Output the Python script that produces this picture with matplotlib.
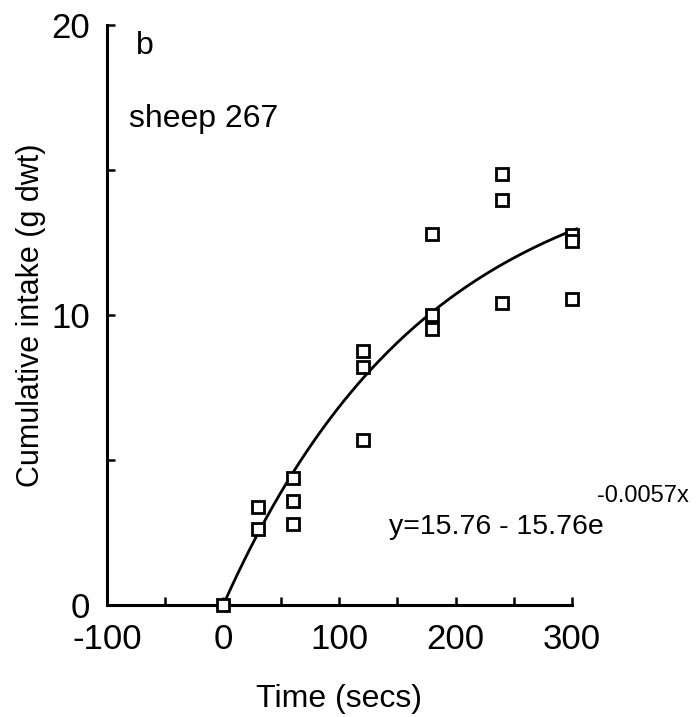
import numpy as np
import matplotlib.pyplot as plt
from matplotlib.ticker import MultipleLocator

time_s = [0, 30, 30, 60, 60, 60, 120, 120, 120, 180, 180, 180, 240, 240, 240, 300, 300, 300]
intake = [0.0, 3.4, 2.64, 4.4, 3.6, 2.8, 8.77, 8.22, 5.7, 12.8, 10.0, 9.52,
          14.88, 13.98, 10.42, 12.75, 12.55, 10.54]

# fitted curve y = a - a*exp(b*x)
fit_a = 15.76
fit_b = -0.0057

plt.rcParams['font.family'] = ['Liberation Sans', 'DejaVu Sans']

fig = plt.figure(figsize=(6.99, 7.17), dpi=100)
ax = fig.add_axes([0.153, 0.156, 0.665, 0.809])

xs = np.linspace(0, 304, 200)
ax.plot(xs, fit_a - fit_a * np.exp(fit_b * xs), color='black', lw=2, clip_on=False)
ax.plot(time_s, intake, ls='none', marker='s', ms=8.5, mfc='white', mec='black',
        mew=2, clip_on=False, zorder=3)

ax.set_xlim(-100, 300)
ax.set_ylim(0, 20)
ax.xaxis.set_major_locator(MultipleLocator(100))
ax.xaxis.set_minor_locator(MultipleLocator(50))
ax.yaxis.set_major_locator(MultipleLocator(10))
ax.yaxis.set_minor_locator(MultipleLocator(5))
ax.tick_params(which='both', direction='in', length=6, width=1.8, labelsize=25)
ax.tick_params(axis='x', pad=13)
ax.tick_params(axis='y', pad=12)
ax.set_xticks([-100, 0, 100, 200, 300])
ax.set_xticklabels(['-100', '0', '100', '200', '300'])

for side in ['top', 'right']:
    ax.spines[side].set_visible(False)
for side in ['left', 'bottom']:
    ax.spines[side].set_linewidth(2.2)

ax.set_xlabel('Time (secs)', fontsize=23, labelpad=20)
ax.set_ylabel('Cumulative intake (g dwt)', fontsize=22, labelpad=4)

ax.text(-75, 19.27, 'b', fontsize=23, va='center')
ax.text(-81, 16.75, 'sheep 267', fontsize=23, va='center')
ax.text(143, 2.7, 'y=15.76 - 15.76e', fontsize=20.5, va='center')
ax.text(322, 3.75, '-0.0057x', fontsize=17, va='center')

fig.savefig('out.png', dpi=100)
